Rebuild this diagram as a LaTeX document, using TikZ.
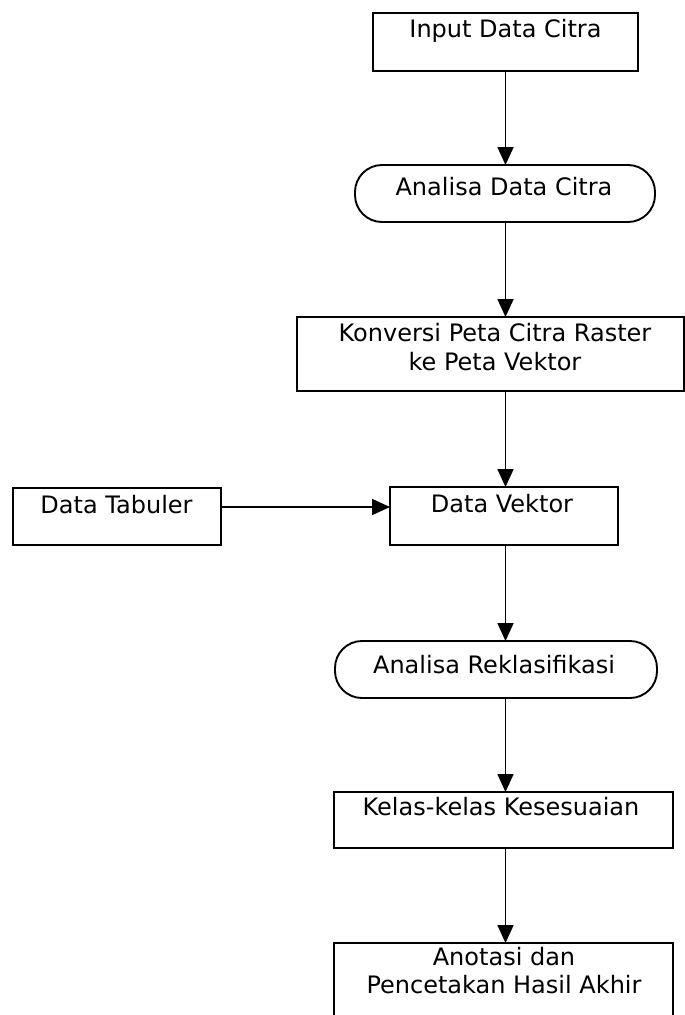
\documentclass[tikz,border=0pt]{standalone}
\usepackage{fontspec}
\setmainfont{DejaVu Sans}
\usetikzlibrary{arrows.meta}
\tikzset{
  box/.style={draw, line width=1.9pt, inner sep=0pt, outer sep=0pt},
  pill/.style={box, rounded corners=27pt},
  lbl/.style={inner sep=0pt, font=\fontsize{24}{28}\selectfont, anchor=base},
  flow/.style={line width=1.8pt, -{Triangle[length=18pt,width=16pt]}}
}
\begin{document}
\begin{tikzpicture}[x=1pt,y=-1pt]
\clip (0,0) rectangle (685,1015);
\fill[white] (0,0) rectangle (685,1015);

% boxes of the flow
\node[box, minimum width=265pt, minimum height=58pt] (input) at (505.5,42) {};
\node[pill, minimum width=300pt, minimum height=57pt] (anadata) at (505,193.5) {};
\node[box, minimum width=387pt, minimum height=74pt] (konversi) at (490.5,354) {};
\node[box, minimum width=228pt, minimum height=58pt] (vektor) at (504,516) {};
\node[box, minimum width=208pt, minimum height=57pt] (tabuler) at (117,516.5) {};
\node[pill, minimum width=322pt, minimum height=57pt] (reklas) at (496,669.5) {};
\node[box, minimum width=339pt, minimum height=56pt] (kelas) at (503.5,820) {};
\node[box, minimum width=339pt, minimum height=90pt] (anotasi) at (503.5,988) {};

% labels
\node[lbl] (inputtxt) at (505.5,37) {Input Data Citra};
\node[lbl] (anadatatxt) at (504,195) {Analisa Data Citra};
\node[lbl] (konvA) at (495,341) {Konversi Peta Citra Raster};
\node[lbl] (konvB) at (495,370) {ke Peta Vektor};
\node[lbl] (vektortxt) at (502,512) {Data Vektor};
\node[lbl] (tabulertxt) at (116.5,513) {Data Tabuler};
\node[lbl] (reklastxt) at (494,673) {Analisa Reklasifikasi};
\node[lbl] (kelastxt) at (501,815) {Kelas-kelas Kesesuaian};
\node[lbl] (anotA) at (504,965) {Anotasi dan};
\node[lbl] (anotB) at (504,993) {Pencetakan Hasil Akhir};

% connectors
\coordinate (spine) at (505.5,0);
\draw[flow] (input.south -| spine) -- (anadata.north -| spine);
\draw[flow] (anadata.south -| spine) -- (konversi.north -| spine);
\draw[flow] (konversi.south -| spine) -- (vektor.north -| spine);
\draw[flow] (tabuler.east |- 0,507) -- (vektor.west |- 0,507);
\draw[flow] (vektor.south -| spine) -- (reklas.north -| spine);
\draw[flow] (reklas.south -| spine) -- (kelas.north -| spine);
\draw[flow] (kelas.south -| spine) -- (anotasi.north -| spine);
\end{tikzpicture}
\end{document}
